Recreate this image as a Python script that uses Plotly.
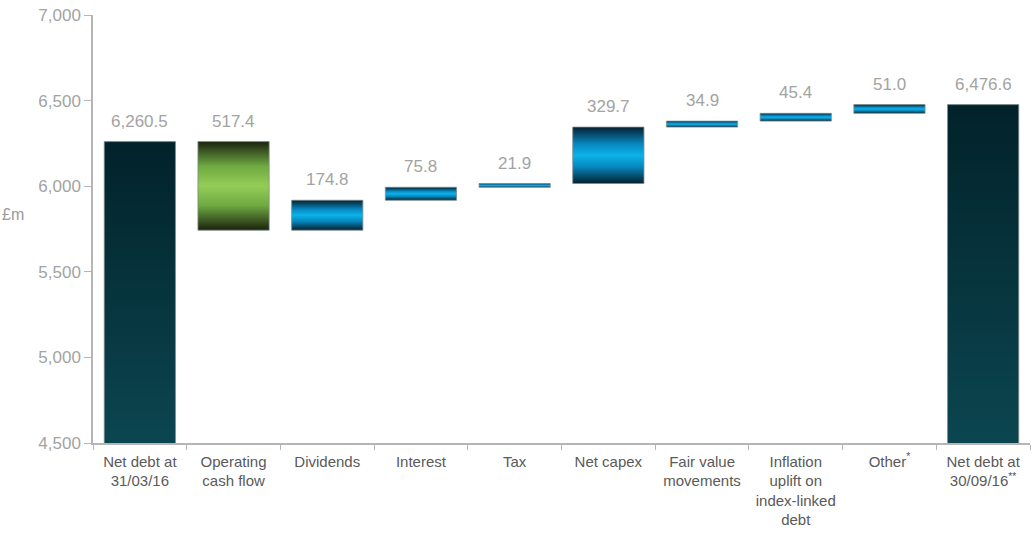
import plotly.graph_objects as go

# Net debt bridge (£m)
categories = [
    "Net debt at<br>31/03/16",
    "Operating<br>cash flow",
    "Dividends",
    "Interest",
    "Tax",
    "Net capex",
    "Fair value<br>movements",
    "Inflation<br>uplift on<br>index-linked<br>debt",
    "Other<sup>*</sup>",
    "Net debt at<br>30/09/16<sup>**</sup>",
]
opening_net_debt = 6260.5
movements = [-517.4, 174.8, 75.8, 21.9, 329.7, 34.9, 45.4, 51.0]
closing_net_debt = 6476.6
y_ticks = [4500, 5000, 5500, 6000, 6500, 7000]

# Colour ramps (bottom -> top)
total_scale = [[0, "#0b4650"], [1, "#02222a"]]
green_scale = [[0, "#1a220e"], [0.28, "#6faa42"], [0.5, "#93cd56"],
               [0.72, "#6faa42"], [1, "#1a220e"]]
blue_scale = [[0, "#05202e"], [0.3, "#0688bf"], [0.5, "#0cb2ea"],
              [0.7, "#0688bf"], [1, "#05202e"]]

half_w = 0.38
axis_min, axis_max = y_ticks[0], y_ticks[-1]
label_font = dict(family="Liberation Sans, Arial", size=17, color="#a3a3a3")

# Build bar spans from the running total
spans = [(0.0, opening_net_debt, "total", opening_net_debt)]
running = opening_net_debt
for m in movements:
    new = running + m
    kind = "green" if m < 0 else "blue"
    spans.append((min(running, new), max(running, new), kind, abs(m)))
    running = new
spans.append((0.0, closing_net_debt, "total", closing_net_debt))

fig = go.Figure()
for i, (lo, hi, kind, shown) in enumerate(spans):
    scale = {"total": total_scale, "green": green_scale, "blue": blue_scale}[kind]
    g_lo = max(lo, axis_min)
    fig.add_trace(go.Scatter(
        x=[i - half_w, i + half_w, i + half_w, i - half_w, i - half_w],
        y=[lo, lo, hi, hi, lo],
        mode="lines",
        fill="toself",
        fillgradient=dict(type="vertical", colorscale=scale, start=g_lo, stop=hi),
        line=dict(color="#7d8b8b", width=0.8),
        hoverinfo="skip",
        showlegend=False,
    ))
    fig.add_annotation(
        x=i, y=hi, text=f"{shown:,.1f}", showarrow=False,
        yanchor="bottom", yshift=9, font=label_font,
    )

fig.add_annotation(
    xref="paper", yref="paper", x=-0.099, y=0.535, text="£m",
    showarrow=False, xanchor="left", yanchor="middle",
    font=dict(family="Liberation Sans, Arial", size=16, color="#9a9a9a"),
)

fig.update_layout(
    width=1033, height=534,
    margin=dict(l=93, r=3, t=15, b=91),
    paper_bgcolor="white", plot_bgcolor="white",
    xaxis=dict(
        range=[-0.5, len(categories) - 0.5],
        tickmode="array", tickvals=list(range(len(categories))), ticktext=categories,
        ticks="", showgrid=False, zeroline=False, ticklabelstandoff=4,
        showline=True, linecolor="#b5b5b5", linewidth=1.5,
        tickfont=dict(family="Liberation Sans, Arial", size=15, color="#5a5a5a"),
        minor=dict(tickmode="array",
                   tickvals=[k - 0.5 for k in range(len(categories) + 1)],
                   ticks="outside", ticklen=5, tickcolor="#b5b5b5", showgrid=False),
        fixedrange=True,
    ),
    yaxis=dict(
        range=[axis_min, axis_max],
        tickmode="array", tickvals=y_ticks, tickformat=",",
        ticks="outside", ticklen=7, tickcolor="#b5b5b5",
        showgrid=False, zeroline=False,
        showline=True, linecolor="#b5b5b5", linewidth=1.5,
        tickfont=dict(family="Liberation Sans, Arial", size=17, color="#a3a3a3"),
        fixedrange=True,
    ),
)

fig.write_html("out.html")
